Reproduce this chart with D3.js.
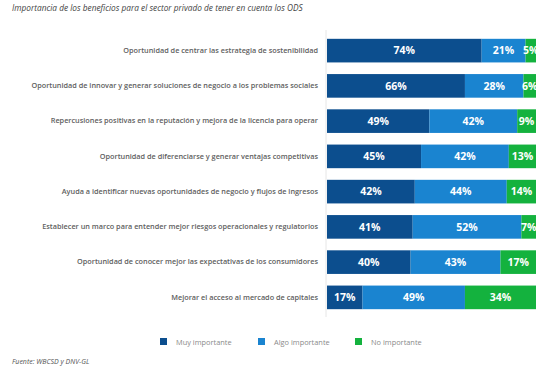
<!DOCTYPE html>
<html>
<head>
<meta charset="utf-8">
<script src="https://cdn.jsdelivr.net/npm/d3@7"></script>
<style>
  body { margin: 0; background: #fff; }
  text { font-family: 'Open Sans', sans-serif; }
</style>
</head>
<body>
<div id="chart"></div>
<script>
const categories = [
  'Oportunidad de centrar las estrategia de sostenibilidad',
  'Oportunidad de innovar y generar soluciones de negocio a los problemas sociales',
  'Repercusiones positivas en la reputación y mejora de la licencia para operar',
  'Oportunidad de diferenciarse y generar ventajas competitivas',
  'Ayuda a identificar nuevas oportunidades de negocio y flujos de ingresos',
  'Establecer un marco para entender mejor riesgos operacionales y regulatorios',
  'Oportunidad de conocer mejor las expectativas de los consumidores',
  'Mejorar el acceso al mercado de capitales'
]
const muyImportante = [74, 66, 49, 45, 42, 41, 40, 17]
const algoImportante = [21, 28, 42, 42, 44, 52, 43, 49]
const noImportante = [5, 6, 9, 13, 14, 7, 17, 34]
const seriesNames = ['Muy importante', 'Algo importante', 'No importante']

const width = 549
const height = 369
const margin = { top: 38, left: 327, right: 13, bottom: 55 }

const colorScale = d3
  .scaleOrdinal()
  .domain(seriesNames)
  .range(['#0c4e8e', '#1a84d0', '#14b23e'])

const svg = d3
  .select('#chart')
  .append('svg')
  .attr('width', width)
  .attr('height', height)

const xScale = d3
  .scaleLinear()
  .domain([0, 100])
  .range([margin.left, width - margin.right])

const yScale = d3
  .scaleBand()
  .domain(categories)
  .range([margin.top - 5, height - margin.bottom + 1])
  .paddingInner(0.33)
  .paddingOuter(0.165)

// build rows for stacking
const rows = categories.map(function(c, i) {
  return {
    name: c,
    'Muy importante': muyImportante[i],
    'Algo importante': algoImportante[i],
    'No importante': noImportante[i]
  }
})

const stack = d3.stack().keys(seriesNames)
const stacked = stack(rows)

// title
svg
  .append('text')
  .attr('x', 12)
  .attr('y', 11)
  .attr('font-size', 8.3)
  .attr('font-style', 'italic')
  .attr('fill', '#3f3f3f')
  .text('Importancia de los beneficios para el sector privado de tener en cuenta los ODS')

// faint axis line
svg
  .append('line')
  .attr('x1', xScale(0) - 1)
  .attr('x2', xScale(0) - 1)
  .attr('y1', margin.top - 8)
  .attr('y2', height - margin.bottom + 3)
  .attr('stroke', '#e6e6e6')
  .attr('stroke-width', 1)

const groups = svg
  .selectAll('.series')
  .data(stacked)
  .enter()
  .append('g')
  .attr('class', 'series')
  .attr('fill', function(d) {
    return colorScale(d.key)
  })

groups
  .selectAll('rect')
  .data(function(d) {
    return d
  })
  .enter()
  .append('rect')
  .attr('x', function(d) {
    return xScale(d[0])
  })
  .attr('y', function(d) {
    return yScale(d.data.name)
  })
  .attr('width', function(d) {
    return xScale(d[1]) - xScale(d[0])
  })
  .attr('height', yScale.bandwidth())

groups
  .selectAll('.value')
  .data(function(d) {
    return d
  })
  .enter()
  .append('text')
  .attr('class', 'value')
  .attr('x', function(d) {
    return (xScale(d[0]) + xScale(d[1])) / 2
  })
  .attr('y', function(d) {
    return yScale(d.data.name) + yScale.bandwidth() / 2
  })
  .attr('dy', '0.35em')
  .attr('text-anchor', 'middle')
  .attr('font-size', 10.5)
  .attr('font-weight', 'bold')
  .attr('fill', 'white')
  .text(function(d) {
    return d[1] - d[0] + '%'
  })

// category labels
const yAxis = d3.axisLeft(yScale).tickSize(0).tickPadding(9)

svg
  .append('g')
  .attr('class', 'axis y-axis')
  .attr('transform', 'translate(' + margin.left + ',0)')
  .call(yAxis)
  .call(function(g) {
    g.select('.domain').remove()
  })
  .selectAll('text')
  .attr('font-family', "'Open Sans', sans-serif")
  .attr('font-size', 7.3)
  .attr('font-weight', 600)
  .attr('fill', '#606060')

// legend
const legendX = [160, 258, 355]
const legend = svg
  .selectAll('.legend')
  .data(seriesNames)
  .enter()
  .append('g')
  .attr('class', 'legend')
  .attr('transform', function(d, i) {
    return 'translate(' + legendX[i] + ',338)'
  })

legend
  .append('rect')
  .attr('width', 7)
  .attr('height', 7)
  .attr('fill', function(d) {
    return colorScale(d)
  })

legend
  .append('text')
  .attr('x', 16)
  .attr('y', 4)
  .attr('dy', '0.35em')
  .attr('font-size', 7.4)
  .attr('fill', '#8a8a8a')
  .text(function(d) {
    return d
  })

// source
svg
  .append('text')
  .attr('x', 12)
  .attr('y', 364)
  .attr('font-size', 7)
  .attr('font-style', 'italic')
  .attr('fill', '#555')
  .text('Fuente: WBCSD y DNV-GL')
</script>
</body>
</html>
